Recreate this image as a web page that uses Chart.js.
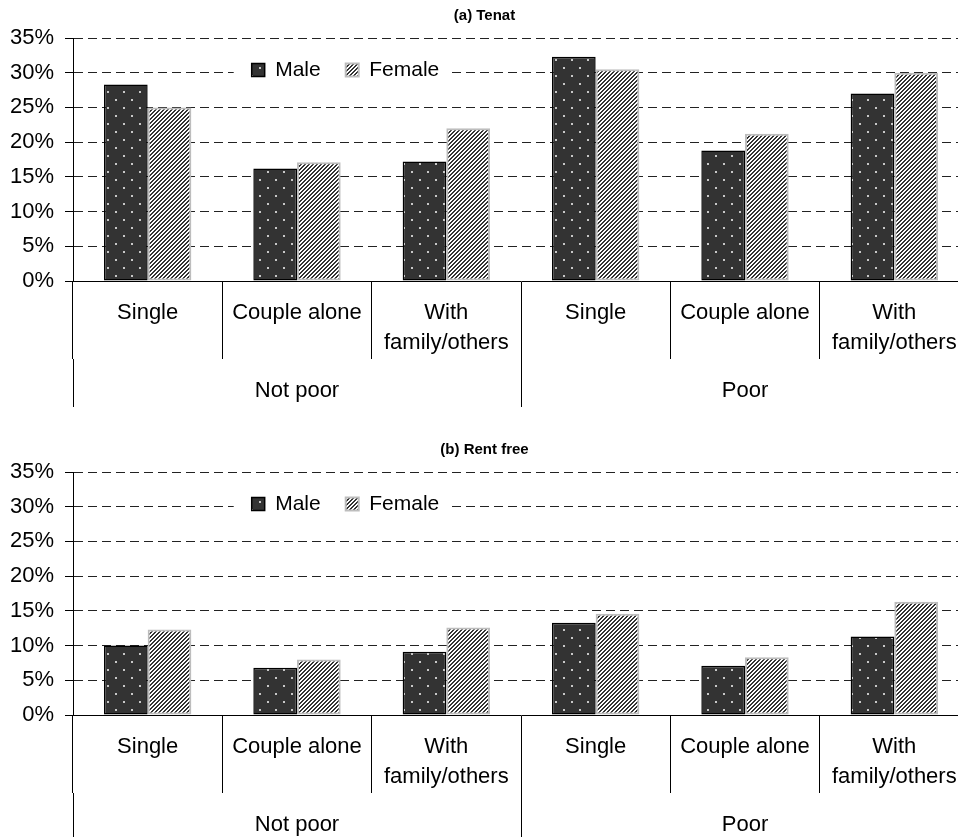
<!DOCTYPE html>
<html lang="en">
<head>
  <meta charset="UTF-8">
  <title>Tenat / Rent free</title>
  <style>
    body { margin: 0; background: #fff; overflow: hidden; }
    canvas { display: block; }
  </style>
</head>
<body>
  <canvas id="tenatChart" width="975" height="434"></canvas>
  <canvas id="rentFreeChart" width="975" height="434"></canvas>

  <script src="https://cdn.jsdelivr.net/npm/chart.js"></script>

  <script>
    // categories
    const householdTypes = ["Single", "Couple alone", ["With", "family/others"], "Single", "Couple alone", ["With", "family/others"]];
    const povertyGroups = ["Not poor", "Poor"];
    const seriesNames = ["Male", "Female"];
    const yTickLabels = ["0%", "5%", "10%", "15%", "20%", "25%", "30%", "35%"];

    // (a) Tenat, values in %
    const tenatMale = [28.3, 16.2, 17.2, 32.3, 18.8, 27.0];
    const tenatFemale = [25.0, 17.1, 22.0, 30.5, 21.2, 30.0];

    // (b) Rent free, values in %
    const rentFreeMale = [10.0, 6.8, 9.1, 13.3, 7.1, 11.3];
    const rentFreeFemale = [12.3, 8.0, 12.6, 14.6, 8.3, 16.3];

    Chart.defaults.font.family = '"Liberation Sans", Arial, sans-serif';
    Chart.defaults.color = "#000";

    // dark fill with small light dots
    function dotPattern() {
      const c = document.createElement("canvas");
      c.width = 16; c.height = 16;
      const g = c.getContext("2d");
      g.fillStyle = "#333";
      g.fillRect(0, 0, 16, 16);
      g.fillStyle = "#c8c8c8";
      g.fillRect(3, 3, 2, 2);
      g.fillRect(11, 11, 2, 2);
      return g.createPattern(c, "repeat");
    }

    // black / white diagonal stripes
    function stripePattern() {
      const c = document.createElement("canvas");
      c.width = 4; c.height = 4;
      const g = c.getContext("2d");
      g.fillStyle = "#fff";
      g.fillRect(0, 0, 4, 4);
      g.fillStyle = "#333";
      for (let y = 0; y < 4; y++) {
        for (let x = 0; x < 4; x++) {
          if ((x + y) % 4 < 2) g.fillRect(x, y, 1, 1);
        }
      }
      return g.createPattern(c, "repeat");
    }

    // legend laid out in one row, placed inside the plot, white box behind it
    const legendInPlot = {
      id: "legendInPlot",
      beforeLayout(chart) {
        if (chart.legend) chart.legend.isHorizontal = () => true;
      },
      afterLayout(chart, args, opts) {
        const lg = chart.legend;
        const pad = lg.options.labels.padding;
        const w = lg.width;
        const h = lg.height;
        lg.left = opts.x - pad;
        lg.right = lg.left + w;
        lg.top = opts.y - pad;
        lg.bottom = lg.top + h;
      },
      beforeDatasetsDraw(chart) {
        const boxes = chart.legend.legendHitBoxes;
        if (!boxes.length) return;
        const first = boxes[0];
        const last = boxes[boxes.length - 1];
        const ctx = chart.ctx;
        ctx.save();
        ctx.fillStyle = "#fff";
        ctx.fillRect(first.left - 18, first.top - 3, last.left + last.width - first.left + 30, first.height + 6);
        ctx.restore();
        chart.legend.draw();
      }
    };

    const makeChart = (canvasId, title, maleValues, femaleValues) => {
      new Chart(document.getElementById(canvasId), {
        type: "bar",
        data: {
          labels: householdTypes,
          datasets: [{
            label: seriesNames[0],
            data: maleValues,
            backgroundColor: dotPattern(),
            borderColor: "#000",
            borderWidth: 1.5,
            borderSkipped: false
          }, {
            label: seriesNames[1],
            data: femaleValues,
            backgroundColor: stripePattern(),
            borderColor: "#bdbdbd",
            borderWidth: 2,
            borderSkipped: false
          }]
        },
        plugins: [legendInPlot],
        options: {
          responsive: false,
          animation: false,
          categoryPercentage: 0.585,
          barPercentage: 1,
          layout: { padding: { left: 0, right: 6, top: 0, bottom: 15 } },
          plugins: {
            title: {
              display: true,
              text: title,
              font: { size: 15, weight: "bold" },
              padding: { top: 7, bottom: 13 }
            },
            legend: {
              position: "chartArea",
              align: "start",
              labels: {
                boxWidth: 13,
                boxHeight: 13,
                padding: 25,
                font: { size: 21 }
              }
            },
            legendInPlot: { x: 251.7, y: 59.5 },
            tooltip: { enabled: false }
          },
          scales: {
            y: {
              min: 0,
              max: 35,
              ticks: {
                stepSize: 5,
                padding: 11,
                font: { size: 22 },
                callback: (v, i) => yTickLabels[i]
              },
              grid: { color: "#222", lineWidth: 1, tickLength: 8, tickColor: "#000", tickBorderDash: [] },
              border: { display: true, color: "#000", width: 1, dash: [9, 5] },
              afterFit: (s) => { s.width = 73; }
            },
            x: {
              type: "category",
              weight: 0,
              offset: true,
              grid: { offset: true, drawOnChartArea: false, tickLength: 78, tickColor: "#000", tickWidth: 1 },
              border: { display: true, color: "#000", width: 1 },
              ticks: {
                font: { size: 22, lineHeight: 30 / 22 },
                padding: -61.5,
                maxRotation: 0,
                autoSkip: false
              },
              afterFit: (s) => { s.height = 78; }
            },
            x2: {
              type: "category",
              labels: povertyGroups,
              position: "bottom",
              weight: 1,
              offset: true,
              grid: { offset: true, drawOnChartArea: false, tickLength: 48, tickColor: "#000", tickWidth: 1 },
              border: { display: false },
              ticks: {
                font: { size: 22, lineHeight: 30 / 22 },
                padding: -31.5,
                maxRotation: 0,
                autoSkip: false
              },
              afterFit: (s) => { s.height = 60; }
            }
          }
        }
      });
    };

    makeChart("tenatChart", "(a) Tenat", tenatMale, tenatFemale);
    makeChart("rentFreeChart", "(b) Rent free", rentFreeMale, rentFreeFemale);
  </script>
</body>
</html>
